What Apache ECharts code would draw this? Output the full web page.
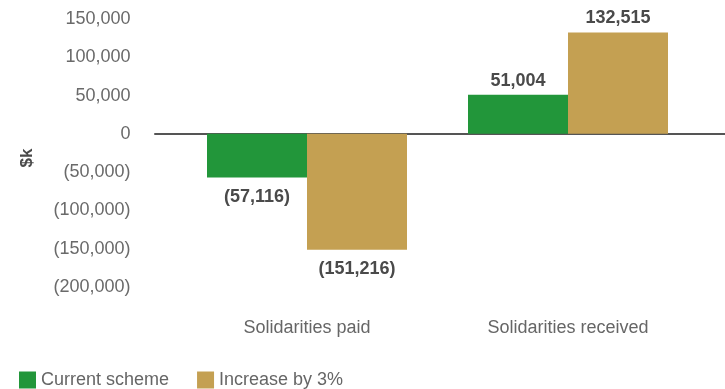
<!DOCTYPE html>
<html><head><meta charset="utf-8">
<script src="https://cdn.jsdelivr.net/npm/echarts@6/dist/echarts.min.js"></script>
<style>html,body{margin:0;padding:0;background:#fff}#c{width:725px;height:389px}</style>
</head><body><div id="c"></div>
<script>
const categories = ['Solidarities paid', 'Solidarities received'];
const currentScheme = [-57116, 51004];
const increase3 = [-151216, 132515];
const seriesNames = ['Current scheme', 'Increase by 3%'];
const yMin = -200000, yMax = 150000, yStep = 50000;

const fmt = v => {
  const s = Math.abs(v).toLocaleString('en-US');
  return v < 0 ? '(' + s + ')' : s;
};
const FONT = 'Liberation Sans';
const labelFor = v => ({
  show: true,
  position: v < 0 ? 'bottom' : 'top',
  distance: v < 0 ? 10 : 5,
  formatter: () => fmt(v),
  color: '#4a4a4a', fontWeight: 'bold', fontSize: 18, fontFamily: FONT
});
const mk = arr => arr.map(v => ({ value: v, label: labelFor(v) }));

const chart = echarts.init(document.getElementById('c'), null, { renderer: 'canvas' });
chart.setOption({
  animation: false,
  textStyle: { fontFamily: FONT },
  legend: {
    left: 14, top: 366, icon: 'rect', itemWidth: 17, itemHeight: 17, itemGap: 28,
    textStyle: { color: '#666', fontSize: 18, fontFamily: FONT }, data: seriesNames
  },
  grid: [
    { left: 176.5, right: 26.5, top: 19, bottom: 102 },
    { left: 155, right: 0, top: 19, bottom: 102 }
  ],
  xAxis: [
    { type: 'category', gridIndex: 0, data: categories,
      axisLine: { show: false, onZero: false }, axisTick: { show: false },
      axisLabel: { color: '#666', fontSize: 18, margin: 32, fontFamily: FONT } },
    { type: 'value', gridIndex: 1, min: 0, max: 1,
      axisLine: { show: true, onZero: true, lineStyle: { color: '#555', width: 2 } },
      axisTick: { show: false }, axisLabel: { show: false }, splitLine: { show: false } }
  ],
  yAxis: [
    { type: 'value', gridIndex: 0, min: yMin, max: yMax, interval: yStep,
      name: '$k', nameLocation: 'middle', nameRotate: 90, nameGap: 141,
      nameTextStyle: { color: '#4a4a4a', fontWeight: 'bold', fontSize: 17, fontFamily: FONT, padding: [0, 10, 0, 0] },
      axisLine: { show: false }, axisTick: { show: false }, splitLine: { show: false },
      axisLabel: { color: '#6a6a6a', fontSize: 18, margin: 46, formatter: fmt, fontFamily: FONT } },
    { type: 'value', gridIndex: 1, min: yMin, max: yMax, interval: yStep, show: false }
  ],
  series: [
    { name: seriesNames[0], type: 'bar', xAxisIndex: 0, yAxisIndex: 0, barWidth: 100, barGap: '0%',
      itemStyle: { color: '#22963a' }, data: mk(currentScheme) },
    { name: seriesNames[1], type: 'bar', xAxisIndex: 0, yAxisIndex: 0, barWidth: 100, barGap: '0%',
      itemStyle: { color: '#c4a052' }, data: mk(increase3) }
  ]
});
</script></body></html>
